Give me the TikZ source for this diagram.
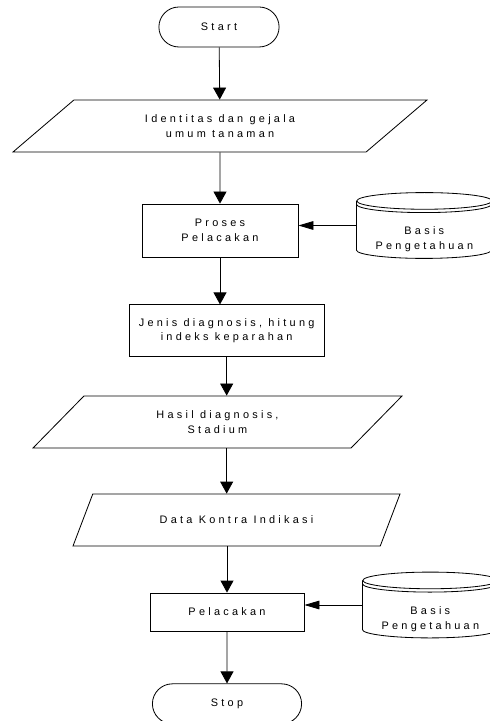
\documentclass[tikz,border=0pt]{standalone}
\usepackage{fontspec}
\newfontfamily\flowfont[LetterSpace=30]{Liberation Sans}
\usetikzlibrary{arrows.meta, positioning, shapes.geometric, shapes.misc}

\begin{document}
\begin{tikzpicture}[
      font=\flowfont\fontsize{9.3}{12.5}\selectfont,
      line width=0.7pt,
      term/.style={draw, rounded rectangle, minimum height=1.2cm, align=center},
      io/.style={draw, trapezium, trapezium stretches body, minimum height=1.56cm, align=center},
      proc/.style={draw, rectangle, align=center},
      db/.style={minimum width=4.05cm, minimum height=1.95cm},
      dbtext/.style={align=center, yshift=-0.42cm},
      arrow/.style={-{Triangle[length=0.36cm, width=0.39cm]}},
      dbarrow/.style={-{Triangle[length=0.45cm, width=0.26cm]}}
  ]
    \useasboundingbox (0,0) rectangle (14.7,-21.63);

    \node[term, minimum width=3.84cm] (start) at (6.57,-0.81) {Start};
    \node[io, trapezium left angle=26.57, trapezium right angle=153.43, minimum width=12.42cm] (in1) at (6.6,-3.78) {Identitas dan gejala\\umum tanaman};
    \node[proc, minimum width=4.68cm, minimum height=1.59cm] (proc1) at (6.6,-6.915) {Proses\\Pelacakan};
    \node[proc, below=1.41cm of proc1, xshift=0.2cm, minimum width=5.85cm, minimum height=1.56cm] (proc2) {Jenis diagnosis, hitung\\indeks keparahan};
    \node[io, trapezium left angle=30.87, trapezium right angle=149.13, minimum width=11.07cm] (in2) at (6.525,-12.66) {Hasil diagnosis,\\Stadium};
    \node[io, trapezium left angle=38.66, trapezium right angle=141.34, minimum width=9.81cm] (in3) at (7.095,-15.6) {Data Kontra Indikasi};
    \node[proc, minimum width=4.62cm, minimum height=1.14cm] (proc3) at (6.81,-18.36) {Pelacakan};
    \node[term, below=1.56cm of proc3, minimum width=4.71cm] (stop) {Stop};

    \node[db, right=1.74cm of proc1, yshift=0.15cm, label={[dbtext]center:Basis\\Pengetahuan}] (db1) {};
    \node[db, right=1.74cm of proc3, yshift=0.21cm, label={[dbtext]center:Basis\\Pengetahuan}] (db2) {};

    % database cylinders
    \foreach \d in {db1, db2} {
      \draw ([yshift=-0.25cm]\d.north west) -- ([yshift=0.25cm]\d.south west)
        arc[start angle=180, end angle=360, x radius=2.025cm, y radius=0.25cm]
        -- ([yshift=-0.25cm]\d.north east);
      \draw ([yshift=-0.25cm]\d.north) ellipse[x radius=2.025cm, y radius=0.25cm];
      \draw ([yshift=-0.35cm]\d.north west) arc[start angle=180, end angle=360, x radius=2.025cm, y radius=0.25cm];
    }

    \draw[arrow] (start) -- (in1);
    \draw[arrow] (in1) -- (proc1);
    \draw[arrow] (proc1) -- (proc1 |- proc2.north);
    \draw[arrow] (proc2) -- (proc2 |- in2.north);
    \draw[arrow] (proc2 |- in2.south) -- (proc2 |- in3.north);
    \draw[arrow] (proc3 |- in3.south) -- (proc3);
    \draw[arrow] (proc3) -- (stop);
    \draw[dbarrow] (db1.west) -- (db1.west -| proc1.east);
    \draw[dbarrow] (db2.west) -- (db2.west -| proc3.east);
  \end{tikzpicture}
\end{document}
